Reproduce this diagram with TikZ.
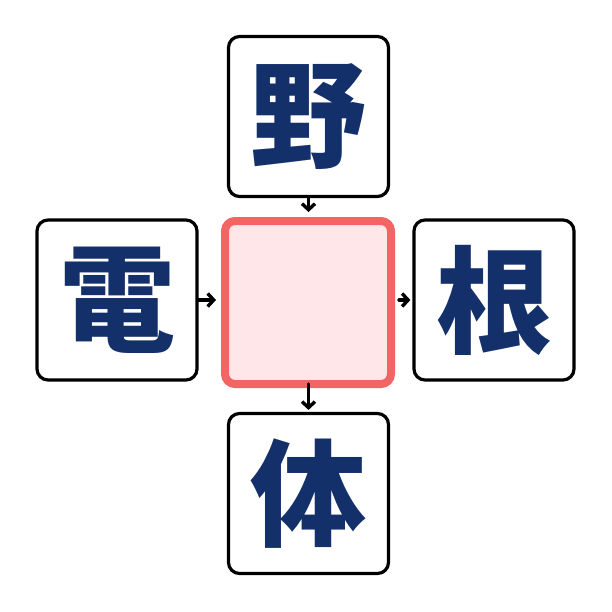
\documentclass[tikz,border=0pt]{standalone}
\usepackage{fontspec}
\newfontfamily\cjk{Noto Sans CJK JP Black}
\usetikzlibrary{arrows.meta}
\definecolor{navy}{HTML}{14306A}
\definecolor{coral}{HTML}{F26565}
\definecolor{pinkfill}{HTML}{FFE6E8}
\newcommand{\glyph}[1]{\raisebox{-6pt}{#1}}
\begin{document}
\begin{tikzpicture}[x=1pt,y=-1pt,
  charbox/.style={draw=black,line width=3.2pt,rounded corners=11pt,fill=white,
    minimum width=160pt,minimum height=160pt,inner sep=0pt,
    font=\cjk\fontsize{116}{116}\selectfont,text=navy},
  centerbox/.style={draw=coral,line width=8pt,rounded corners=10pt,fill=pinkfill,
    minimum width=166pt,minimum height=163pt,inner sep=0pt},
  conn/.style={draw=black,line width=3.4pt,line cap=round,-{Straight Barb[length=6pt,width=13pt]}}]
\useasboundingbox (0,0) rectangle (612,611);
\fill[white] (0,0) rectangle (612,611);
\node[centerbox] (c) at (308,302.5) {};
\node[charbox] (t) at (308.5,116.5) {\glyph{野}};
\node[charbox] (l) at (117,300) {\glyph{電}};
\node[charbox] (r) at (494,300) {\glyph{根}};
\node[charbox] (b) at (308.5,493.5) {\glyph{体}};
\draw[conn,shorten >=5pt] (t.south) -- (t.south |- c.north);
\draw[conn,shorten >=5pt] (l.east) -- (l.east -| c.west);
\draw[conn,shorten >=2pt] (c.east |- r.west) ++(4pt,0) coordinate (re) (re) -- (r.west);
\draw[conn,shorten >=2pt] (c.south -| b.north) ++(0,4pt) coordinate (be) (be) -- (b.north);
\end{tikzpicture}
\end{document}
